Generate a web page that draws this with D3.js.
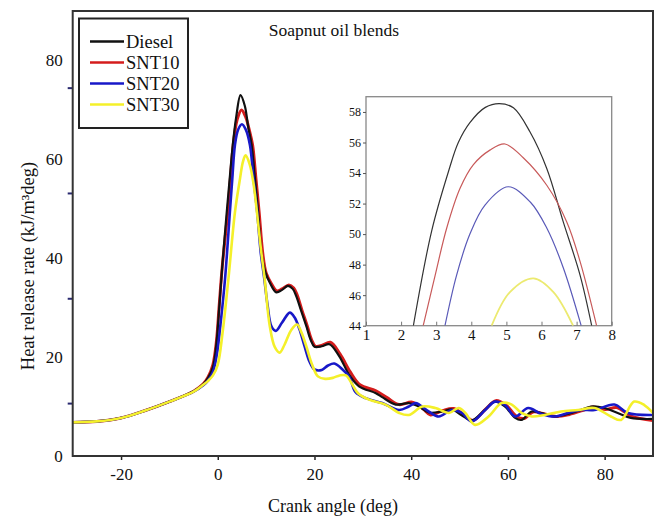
<!DOCTYPE html>
<html><head><meta charset="utf-8">
<script src="https://cdn.jsdelivr.net/npm/d3@7"></script>
<style>body{margin:0;background:#fff}svg{display:block}text{font-family:"Liberation Serif","Times New Roman",serif}</style>
</head><body><svg id="c" width="660" height="519"></svg>
<script>
// ---- data ----
const seriesNames = ["Diesel","SNT10","SNT20","SNT30"];
const seriesColors = ["#111111","#d41c1c","#1818c8","#f4f02a"];
const insetColors = ["#333333","#c85a5a","#5a5ab8","#ecea70"];
const xTicks = [-20,0,20,40,60,80];
const yTicks = [0,20,40,60,80];
const yMinorTicks = [10.7,31.9,53.2,74.5];
const insetXTicks = [1,2,3,4,5,6,7,8];
const insetYTicks = [44,46,48,50,52,54,56,58];

const dieselX = [-30,-25,-20,-15,-10,-5,-3,-2,-1,-0.3,0.3,0.9,1.85,2.5,3.1,3.8,4.7,5.6,6.3,7.0,7.7,8.35,9.04,9.8,10.75,12.1,13.3,14.5,15.5,16.2,17.2,18.3,19.2,20,21.5,23.1,25.1,27.2,29.2,32.7,34,36.8,39.5,41.6,43.6,46.4,48.4,50.5,52.5,55.3,57.3,59.4,61.5,62.8,64.9,66.9,69.7,72.4,75.1,77.2,80,82.7,85.4,90];
const dieselY = [6.8,7.0,7.7,9.2,11.0,13.1,14.5,15.8,18,22.5,30,38,49.3,56.5,62.9,68.5,73,70.8,66.5,62.9,56,49.3,41,37.3,35.1,33.1,33.6,34.4,33.8,32.4,29.5,26.3,23.5,22.1,22.2,22.6,20.2,16.4,14.1,12.7,11.9,10.4,10.7,10.0,8.8,9.0,9.4,8.2,7.2,9.4,11.0,10.0,7.7,7.3,9.0,8.7,8.0,8.5,9.3,10.0,9.7,8.7,7.7,7.5];

const snt10X = [-30,-25,-20,-15,-10,-5,-3,-2,-1,-0.3,0.3,0.9,2.05,2.6,3.2,4.0,4.9,5.8,6.5,7.2,7.9,8.55,9.3,10,11,12.2,13.3,14.7,15.7,16.4,17.4,18.5,19.4,20.2,21.6,23.3,25.3,27.4,29.4,32.7,35,37.5,40.2,42.5,44,46.5,48.8,50.8,52.8,55.5,57.5,59.6,61.8,63.4,65.2,67.2,70,72.7,75.4,77.5,80.2,82.5,85.6,90];
const snt10Y = [6.8,7.0,7.7,9.2,11.0,13.1,14.6,16,18.5,23,30.5,38,49.3,56,62.9,68,70,68.5,66,62.9,56,49.3,41,37,35,33.4,33.8,34.6,34,32.6,29.5,26.3,23.5,22.2,22.4,23,20.6,17,14.4,13.2,11.8,10.4,10.9,9.5,8.3,9.2,9.6,8.4,7.2,9.6,11.2,10.3,8.0,7.6,8.9,8.6,8.0,8.4,9.2,9.9,9.4,9.8,8.0,7.2];

const snt20X = [-30,-25,-20,-15,-10,-5,-3,-2,-1,-0.2,0.6,1.5,2.5,3.0,3.55,4.2,5.0,5.8,6.65,7.4,8.15,8.9,9.6,10.3,11.1,12.0,13.3,14.9,15.9,16.9,18.0,19.0,20,21.5,22.8,24.1,25.8,27.2,28.5,30.6,34,37.5,39.5,40.9,43.6,45.7,48.4,50.5,52.5,55.3,57.3,59.4,61.5,64.2,66.9,69.7,72.4,75.1,77.9,82.0,84.8,90];
const snt20Y = [6.8,7.0,7.7,9.2,11.0,13.0,14.3,15.3,17,20.5,27,35.8,49.3,56,62.9,66,67.1,66,62.9,56,49.3,41,36,30.5,26.2,25.3,27,29,28,25.6,22,19,17.5,17.4,18.3,18.7,17.5,16,12.9,11.7,10.7,9.3,10.0,10.7,9.0,8.0,9.3,8.7,7.0,9.3,11.0,10.3,8.0,9.7,8.5,8.0,8.7,9.3,9.3,10.4,8.7,8.3];

const snt30X = [-30,-25,-20,-15,-10,-5,-3,-2,-1,0,1,2.2,3.55,4.6,5.2,5.75,6.6,7.4,8.1,8.9,9.7,10.75,11.8,12.8,13.8,15.2,16.4,17.3,18.3,19.5,20.7,22.2,23.8,25.2,26.5,27.8,29,31.3,34.7,37.5,39.5,42.3,45,47.8,49.8,51.2,53.2,56,58.7,60.8,62.8,64.9,67.6,71,74.5,77.9,81.3,83.4,86.1,88.2,90];
const snt30Y = [6.8,7.0,7.7,9.2,11.0,13.0,14.4,15.2,16.3,18.5,25,35.8,49.3,56.1,59.5,60.8,59,55,49.3,42,35.8,26.3,22,20.9,22.5,25.5,26.6,25,22.2,18.5,16.1,15.6,15.8,16.3,16.3,14.5,12.7,11.4,10.4,8.7,8.3,10,9.7,8.7,9.7,8.7,6.3,8.0,10.7,10.4,8.7,8.0,8.3,9.0,9.3,9.7,8.0,7.3,11.0,10.3,8.7];

const insetDieselX = [2.35,2.87,3.35,3.63,3.96,4.4,4.8,5.2,5.67,6.15,6.62,7.1,7.43];
const insetDieselY = [44,50.2,54.1,56,57.3,58.3,58.55,58.27,56.7,54.3,50.8,47.3,44];
const insetSnt10X = [2.63,2.97,3.3,3.68,4.06,4.53,4.96,5.48,6.15,6.72,7.1,7.57];
const insetSnt10Y = [44,47.3,50.4,53.0,54.55,55.5,55.9,55.0,53.2,50.8,48.2,44];
const insetSnt20X = [3.25,3.58,3.96,4.39,5.05,5.68,6.15,6.62,7.13];
const insetSnt20Y = [44,47.3,50.0,51.9,53.1,52.1,50.4,47.8,44];
const insetSnt30X = [4.58,5.1,5.77,6.34,6.9];
const insetSnt30Y = [44,46.2,47.1,46.2,44];

// ---- chart ----
const FONT = "Liberation Serif, Times New Roman, serif";
const svg = d3.select("#c");
const L = 72.7, R = 653, T = 11, B = 456;
const x = d3.scaleLinear().domain([-30,90]).range([L,R]);
const y = d3.scaleLinear().domain([0,90]).range([B,T]);
const fmt = d => String(d);

const mainSeries = [
  {name:seriesNames[0], xs:dieselX, ys:dieselY},
  {name:seriesNames[1], xs:snt10X, ys:snt10Y},
  {name:seriesNames[2], xs:snt20X, ys:snt20Y},
  {name:seriesNames[3], xs:snt30X, ys:snt30Y}
];
const line = d3.line().x(d=>x(d[0])).y(d=>y(d[1])).curve(d3.curveCatmullRom.alpha(0.5));

const defs = svg.append("defs");
defs.append("clipPath").attr("id","mclip").append("rect")
  .attr("x",L).attr("y",T).attr("width",R-L).attr("height",B-T);

const order = [1,0,2,3];
const widths = [2.2,3.0,2.6,2.6];
const g = svg.append("g").attr("clip-path","url(#mclip)");
order.forEach(i=>{
  const s = mainSeries[i];
  g.append("path").datum(s.xs.map((v,k)=>[v,s.ys[k]]))
    .attr("d",line).attr("fill","none").attr("stroke",seriesColors[i])
    .attr("stroke-width",widths[i]).attr("stroke-linejoin","round");
});

// axes
const gx = svg.append("g").attr("transform",`translate(0,${B})`)
  .call(d3.axisBottom(x).tickValues(xTicks).tickSize(4).tickPadding(8).tickFormat(fmt));
gx.attr("font-family",FONT);
gx.select(".domain").remove();
gx.selectAll("line").attr("stroke","#222").attr("stroke-width",1.5);
gx.selectAll("text").attr("font-size",17).attr("fill","#111").attr("font-family",FONT);

const gy = svg.append("g").attr("transform",`translate(${L},0)`)
  .call(d3.axisLeft(y).tickValues(yTicks).tickSize(0).tickPadding(10).tickFormat(fmt));
gy.attr("font-family",FONT);
gy.select(".domain").remove();
gy.selectAll("text").attr("font-size",17).attr("fill","#111").attr("font-family",FONT);

const gym = svg.append("g").attr("transform",`translate(${L},0)`)
  .call(d3.axisLeft(y).tickValues(yMinorTicks).tickSize(5).tickFormat(""));
gym.select(".domain").remove();
gym.selectAll("line").attr("stroke","#2a2a70").attr("stroke-width",2);

// frame
svg.append("rect").attr("x",L).attr("y",T).attr("width",R-L).attr("height",B-T)
  .attr("fill","none").attr("stroke","#333").attr("stroke-width",2);

// titles
svg.append("text").attr("x",334).attr("y",36).attr("text-anchor","middle").attr("font-family",FONT)
  .attr("font-size",17.5).attr("fill","#111").text("Soapnut oil blends");
svg.append("text").attr("x",333).attr("y",512).attr("text-anchor","middle").attr("font-family",FONT)
  .attr("font-size",18).attr("fill","#111").text("Crank angle (deg)");
svg.append("text").attr("transform","translate(34,266) rotate(-90)").attr("text-anchor","middle").attr("font-family",FONT)
  .attr("font-size",18.5).attr("fill","#111").text("Heat release rate (kJ/m³deg)");

// legend
const lg = svg.append("g");
lg.append("rect").attr("x",79).attr("y",18.5).attr("width",109).attr("height",109.5)
  .attr("fill","#fff").attr("stroke","#222").attr("stroke-width",2);
seriesNames.forEach((n,i)=>{
  const yy = 41.5 + i*21;
  lg.append("line").attr("x1",90).attr("x2",124).attr("y1",yy).attr("y2",yy)
    .attr("stroke",seriesColors[i]).attr("stroke-width",2.5);
  lg.append("text").attr("x",126).attr("y",yy+6).attr("font-size",18.5).attr("font-family",FONT)
    .attr("fill","#111").text(n);
});

// inset
const iL = 366, iR = 611.7, iT = 96.7, iB = 325.7;
const ix = d3.scaleLinear().domain([1,8]).range([iL,iR]);
const iy = d3.scaleLinear().domain([44,59]).range([iB,iT]);
svg.append("rect").attr("x",iL).attr("y",iT).attr("width",iR-iL).attr("height",iB-iT)
  .attr("fill","#fff").attr("stroke","#888").attr("stroke-width",1.3);
defs.append("clipPath").attr("id","iclip").append("rect")
  .attr("x",iL).attr("y",iT).attr("width",iR-iL).attr("height",iB-iT);
const insetSeries = [
  [insetDieselX,insetDieselY],[insetSnt10X,insetSnt10Y],[insetSnt20X,insetSnt20Y],[insetSnt30X,insetSnt30Y]
];
const iline = d3.line().x(d=>ix(d[0])).y(d=>iy(d[1])).curve(d3.curveCatmullRom.alpha(0.5));
const ig = svg.append("g").attr("clip-path","url(#iclip)");
insetSeries.forEach((s,i)=>{
  ig.append("path").datum(s[0].map((v,k)=>[v,s[1][k]])).attr("d",iline)
    .attr("fill","none").attr("stroke",insetColors[i]).attr("stroke-width",i===3?1.8:1.2);
});
const igx = svg.append("g").attr("transform",`translate(0,${iB})`)
  .call(d3.axisBottom(ix).tickValues(insetXTicks).tickSize(-4).tickPadding(4).tickFormat(fmt));
igx.select(".domain").remove();
igx.selectAll("line").attr("stroke","#777");
igx.selectAll("text").attr("font-size",15).attr("fill","#111").attr("font-family",FONT);
const igy = svg.append("g").attr("transform",`translate(${iL},0)`)
  .call(d3.axisLeft(iy).tickValues(insetYTicks).tickSize(3).tickPadding(2).tickFormat(fmt));
igy.select(".domain").remove();
igy.selectAll("line").attr("stroke","#555");
igy.selectAll("text").attr("font-size",12).attr("fill","#111").attr("font-family",FONT);
</script></body></html>
